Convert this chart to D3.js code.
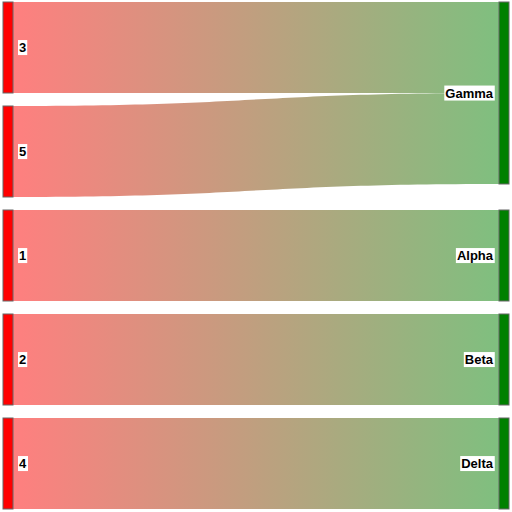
<!DOCTYPE html>
<html><head><meta charset="utf-8">
<script src="https://cdn.jsdelivr.net/npm/d3@7"></script>
<style>html,body{margin:0;padding:0;background:#fff;}svg{display:block;}</style>
</head><body>
<svg id="chart" width="512" height="512"></svg>
<script>
// ---- data ----
const sources = ["3", "5", "1", "2", "4"];
const targets = ["Gamma", "Gamma", "Alpha", "Beta", "Delta"];
const values = [1, 1, 1, 1, 1];
const leftNodes = ["3", "5", "1", "2", "4"];
const rightNodes = ["Gamma", "Alpha", "Beta", "Delta"];

// ---- layout ----
const nodeWidth = 10, nodePad = 13;
const ext = {x0: 3, y0: 2, x1: 509, y1: 509};
const svg = d3.select("#chart");

const links = sources.map((s, i) => ({source: s, target: targets[i], value: values[i]}));
const leftVal = leftNodes.map(n => d3.sum(links.filter(l => l.source === n), l => l.value));
const rightVal = rightNodes.map(n => d3.sum(links.filter(l => l.target === n), l => l.value));
const kyL = (ext.y1 - ext.y0 - (leftNodes.length - 1) * nodePad) / d3.sum(leftVal);
const kyR = (ext.y1 - ext.y0 - (rightNodes.length - 1) * nodePad) / d3.sum(rightVal);
const ky = Math.min(kyL, kyR);
const v = d3.scaleLinear().domain([0, 1]).range([0, ky]);
const xCol = d3.scaleLinear().domain([0, 1]).range([ext.x0, ext.x1 - nodeWidth]);

const nodes = {};
let yy = ext.y0;
leftNodes.forEach((n, i) => {
  nodes[n] = {name: n, col: 0, x0: xCol(0), x1: xCol(0) + nodeWidth, y0: yy, y1: yy + v(leftVal[i])};
  yy += v(leftVal[i]) + nodePad;
});
links.forEach(l => {
  const s = nodes[l.source];
  s.cy = s.cy === undefined ? s.y0 : s.cy;
  l.sy0 = s.cy; l.sy1 = s.cy + v(l.value); s.cy = l.sy1;
});
let prev = ext.y0 - nodePad;
rightNodes.forEach((n, i) => {
  const inc = links.filter(l => l.target === n);
  let y0 = Math.max(d3.min(inc, l => l.sy0), prev + nodePad);
  nodes[n] = {name: n, col: 1, x0: xCol(1), x1: xCol(1) + nodeWidth, y0: y0, y1: y0 + v(rightVal[i])};
  prev = nodes[n].y1;
});
links.forEach(l => {
  const t = nodes[l.target];
  t.cy = t.cy === undefined ? t.y0 : t.cy;
  l.ty0 = t.cy; l.ty1 = t.cy + v(l.value); t.cy = l.ty1;
});

// ---- gradients ----
const defs = svg.append("defs");
links.forEach((l, i) => {
  const g = defs.append("linearGradient").attr("id", "g" + i)
    .attr("gradientUnits", "userSpaceOnUse")
    .attr("x1", nodes[l.source].x1).attr("x2", nodes[l.target].x0)
    .attr("y1", 0).attr("y2", 0);
  g.append("stop").attr("offset", "0%").attr("stop-color", "#ff0000");
  g.append("stop").attr("offset", "100%").attr("stop-color", "#008000");
});

function band(l) {
  const xa = nodes[l.source].x1, xb = nodes[l.target].x0, xm = (xa + xb) / 2;
  const p = d3.path();
  p.moveTo(xa, l.sy0);
  p.bezierCurveTo(xm, l.sy0, xm, l.ty0, xb, l.ty0);
  p.lineTo(xb, l.ty1);
  p.bezierCurveTo(xm, l.ty1, xm, l.sy1, xa, l.sy1);
  p.closePath();
  return p.toString();
}

svg.append("g").selectAll("path").data(links).join("path")
  .attr("d", band)
  .attr("fill", (d, i) => `url(#g${i})`)
  .attr("fill-opacity", 0.5);

// ---- nodes ----
const nodeList = leftNodes.concat(rightNodes).map(n => nodes[n]);
svg.append("g").selectAll("rect").data(nodeList).join("rect")
  .attr("x", d => d.x0).attr("y", d => d.y0)
  .attr("width", d => d.x1 - d.x0).attr("height", d => d.y1 - d.y0)
  .attr("fill", d => d.col === 0 ? "#ff0000" : "#008000")
  .attr("stroke", "#666").attr("stroke-width", 1);

// ---- labels ----
const lg = svg.append("g");
nodeList.forEach(d => {
  const g = lg.append("g");
  const bg = g.append("rect").attr("fill", "#fff");
  const t = g.append("text")
    .attr("x", d.col === 0 ? d.x1 + 6 : d.x0 - 6)
    .attr("y", (d.y0 + d.y1) / 2)
    .attr("dy", "0.35em")
    .attr("text-anchor", d.col === 0 ? "start" : "end")
    .attr("font-family", "Arial, 'Liberation Sans', sans-serif")
    .attr("font-size", 13).attr("font-weight", "bold")
    .attr("fill", "#000")
    .text(d.name);
  const b = t.node().getBBox();
  bg.attr("x", b.x - 1).attr("y", b.y).attr("width", b.width + 2).attr("height", b.height);
});
</script>
</body></html>
